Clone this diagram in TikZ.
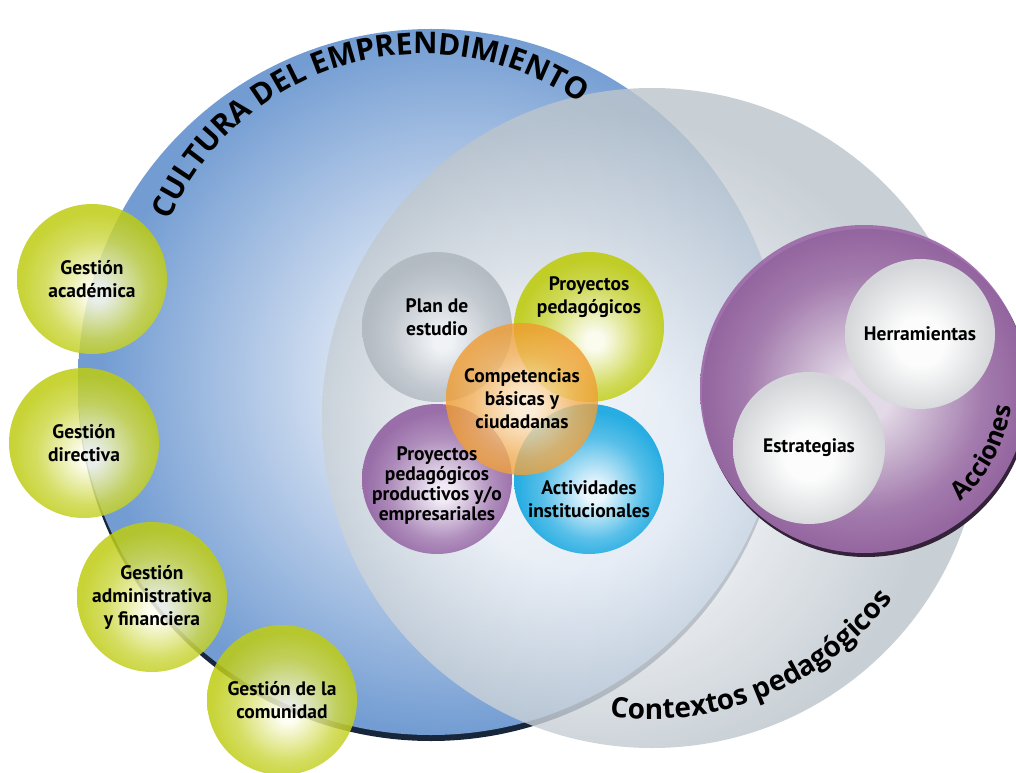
\documentclass[tikz,border=0pt]{standalone}
\usepackage{fontspec}
\setmainfont{PT Sans}
\newfontfamily\rotulo{Open Sans}
\usetikzlibrary{decorations.text}

\definecolor{azul}{RGB}{114,156,210}
\definecolor{azulclaro}{RGB}{232,238,248}
\definecolor{azuloscuro}{RGB}{24,38,60}
\definecolor{gris}{RGB}{188,197,204}
\definecolor{grisclaro}{RGB}{245,247,250}
\definecolor{verde}{RGB}{190,204,18}
\definecolor{verdeclaro}{RGB}{253,253,238}
\definecolor{morado}{RGB}{156,106,168}
\definecolor{moradoclaro}{RGB}{242,234,246}
\definecolor{moradooscuro}{RGB}{52,34,56}
\definecolor{moradito}{RGB}{146,98,162}
\definecolor{naranja}{RGB}{240,156,48}
\definecolor{naranjaclaro}{RGB}{255,236,208}
\definecolor{cian}{RGB}{18,166,224}
\definecolor{cianclaro}{RGB}{236,248,255}
\definecolor{plata}{RGB}{176,184,192}
\definecolor{plataclaro}{RGB}{242,244,247}
\definecolor{perla}{RGB}{212,214,217}
\definecolor{perlaclaro}{RGB}{252,252,252}

\pgfdeclareradialshading{bolaazul}{\pgfpoint{3bp}{0bp}}{color(0bp)=(azulclaro); color(6bp)=(azulclaro); color(25bp)=(azul); color(50bp)=(azul)}
\pgfdeclareradialshading{bolagris}{\pgfpoint{-7bp}{-4bp}}{color(0bp)=(grisclaro); color(8bp)=(grisclaro); color(25bp)=(gris); color(50bp)=(gris)}
\pgfdeclareradialshading{bolaverde}{\pgfpoint{2bp}{-5bp}}{color(0bp)=(verdeclaro); color(3bp)=(verdeclaro); color(17bp)=(verde!75!verdeclaro); color(25bp)=(verde); color(50bp)=(verde)}
\pgfdeclareradialshading{bolamorada}{\pgfpoint{0bp}{-1bp}}{color(0bp)=(moradoclaro); color(4bp)=(moradoclaro); color(18bp)=(morado!80!moradoclaro); color(25bp)=(morado); color(50bp)=(morado)}
\pgfdeclareradialshading{bolamoradita}{\pgfpoint{2bp}{-5bp}}{color(0bp)=(moradoclaro); color(3bp)=(moradoclaro); color(17bp)=(moradito!75!moradoclaro); color(25bp)=(moradito); color(50bp)=(moradito)}
\pgfdeclareradialshading{bolanaranja}{\pgfpoint{1bp}{-3bp}}{color(0bp)=(naranjaclaro); color(3bp)=(naranjaclaro); color(17bp)=(naranja!75!naranjaclaro); color(25bp)=(naranja); color(50bp)=(naranja)}
\pgfdeclareradialshading{bolacian}{\pgfpoint{2bp}{-5bp}}{color(0bp)=(cianclaro); color(3bp)=(cianclaro); color(17bp)=(cian!75!cianclaro); color(25bp)=(cian); color(50bp)=(cian)}
\pgfdeclareradialshading{bolaplata}{\pgfpoint{2bp}{-5bp}}{color(0bp)=(plataclaro); color(3bp)=(plataclaro); color(17bp)=(plata!75!plataclaro); color(25bp)=(plata); color(50bp)=(plata)}
\pgfdeclareradialshading{bolablanca}{\pgfpoint{0bp}{-3bp}}{color(0bp)=(perlaclaro); color(8bp)=(perlaclaro); color(25bp)=(perla); color(50bp)=(perla)}

\begin{document}
\begin{tikzpicture}[x=1pt,y=1pt]
\tikzset{
  bola/.style={circle, inner sep=0pt, minimum size=150pt, shade},
  texto/.style={align=center, font=\bfseries\fontsize{19.5}{23}\selectfont},
}
\clip (0,0) rectangle (1016,772);
% circulos grandes
\node[circle, inner sep=0pt, minimum size=706pt, fill=azuloscuro] (sombra) at (431,384) {};
\node[bola, minimum size=706pt, shading=bolaazul] (cultura) at (431,390) {};
\node[bola, minimum size=660pt, shading=bolagris, fill opacity=0.82] (contextos) at (652,354) {};
% gestiones
\node[bola, shading=bolaverde, fill opacity=0.85] (academica) at (92,493) {};
\node[bola, shading=bolaverde, fill opacity=0.85] (directiva) at (84,329) {};
\node[bola, shading=bolaverde, fill opacity=0.85] (administrativa) at (152,175) {};
\node[bola, shading=bolaverde, fill opacity=0.85] (comunidad) at (282,72) {};
% acciones
\node[circle, inner sep=0pt, minimum size=328pt, fill=moradooscuro] (sombra2) at (866,379) {};
\node[bola, minimum size=328pt, shading=bolamorada, fill opacity=0.92] (acciones) at (864,383) {};
\node[bola, shading=bolablanca] (herramientas) at (920,438) {};
\node[bola, minimum size=152pt, shading=bolablanca] (estrategias) at (809,324) {};
% contextos
\node[bola, shading=bolaplata, fill opacity=0.9] (plan) at (437,445) {};
\node[bola, shading=bolaverde, fill opacity=0.9] (proyectos) at (589,445) {};
\node[bola, shading=bolamoradita, fill opacity=0.9] (productivos) at (437,293) {};
\node[bola, shading=bolacian, fill opacity=0.9] (actividades) at (589,293) {};
\node[bola, minimum size=152pt, shading=bolanaranja, fill opacity=0.8] (competencias) at (522,373) {};
% textos
\node[texto] (t-academica) at (academica) {Gestión\\académica};
\node[texto] (t-directiva) at (directiva) {Gestión\\directiva};
\node[texto] (t-administrativa) at (administrativa) {Gestión\\administrativa\\y financiera};
\node[texto] (t-comunidad) at (comunidad) {Gestión de la\\comunidad};
\node[texto] (t-herramientas) at (herramientas) {Herramientas};
\node[texto] (t-estrategias) at (estrategias) {Estrategias};
\node[texto] (t-plan) at ([yshift=10]plan) {Plan de\\estudio};
\node[texto] (t-proyectos) at ([yshift=30]proyectos) {Proyectos\\pedagógicos};
\node[texto, font=\bfseries\fontsize{19.5}{20}\selectfont] (t-productivos) at ([yshift=-7]productivos) {Proyectos\\pedagógicos\\productivos y/o\\empresariales};
\node[texto] (t-actividades) at ([yshift=-20]actividades) {Actividades\\institucionales};
\node[texto] (t-competencias) at (competencias) {Competencias\\básicas y\\ciudadanas};
% rotulos curvos
\path[decorate, decoration={text along path, text align=center,
  text={|\rotulo\bfseries\fontsize{30}{30}\selectfont|CULTURA DEL EMPRENDIMIENTO}}]
  (cultura.center) ++(-8,52) ++(162:276) arc[start angle=162, end angle=50, radius=276];
\path[decorate, decoration={text along path, text align=center,
  text={|\rotulo\bfseries\fontsize{28}{28}\selectfont|Contextos pedagógicos}}]
  (contextos.center) ++(-104:301) arc[start angle=-104, end angle=-31, radius=301];
\path[decorate, decoration={text along path, text align=center,
  text={|\rotulo\bfseries\fontsize{25}{25}\selectfont|Acciones}}]
  (acciones.center) ++(-62:148) arc[start angle=-62, end angle=6, radius=148];
\end{tikzpicture}
\end{document}
